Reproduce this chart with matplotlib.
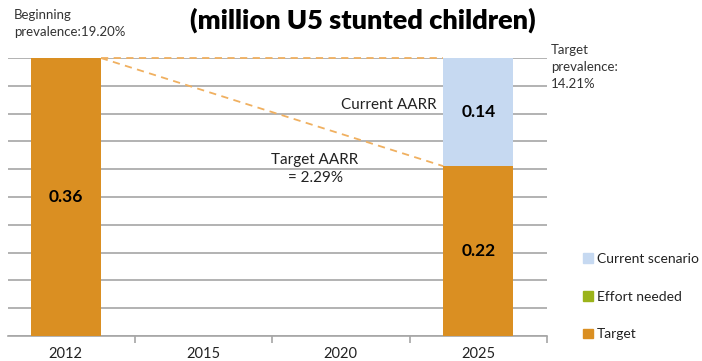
import matplotlib
matplotlib.use("Agg")
import matplotlib.pyplot as plt
from matplotlib.patches import Patch

plt.rcParams["font.family"] = ["Lato", "DejaVu Sans"]

# data
years = ["2012", "2015", "2020", "2025"]
target = [0.36, 0.0, 0.0, 0.22]
effort = [0.0, 0.0, 0.0, 0.0]
current = [0.0, 0.0, 0.0, 0.14]
start_prev = 0.36
target_level = 0.22

ORANGE = "#DA8F22"
BLUE = "#C6D9F1"
GREEN = "#9BB31A"
GRID = "#A6A6A6"

fig = plt.figure(figsize=(7.02, 3.61), dpi=100)
ax = fig.add_axes([8 / 702, 25 / 361, 539 / 702, 278 / 361])

x = range(len(years))
w = 0.51
ax.bar(x, target, w, color=ORANGE, zorder=3)
ax.bar(x, effort, w, bottom=target, color=GREEN, zorder=3)
bottom2 = [t + e for t, e in zip(target, effort)]
ax.bar(x, current, w, bottom=bottom2, color=BLUE, zorder=3)

ax.set_xlim(-0.42, 3.5)
ax.set_ylim(0, 0.36)
ax.set_yticks([i * 0.036 for i in range(11)])
ax.yaxis.grid(True, color=GRID, linewidth=1.2)
ax.tick_params(axis="y", left=False, labelleft=False)
ax.set_xticks([0, 1, 2, 3], labels=years)
ax.set_xticks([0.5, 1.5, 2.5, 3.5], minor=True)
ax.tick_params(axis="x", which="major", length=0, pad=8, labelsize=10.5, colors="#222222")
ax.tick_params(axis="x", which="minor", length=5, color=GRID, width=1.2)
for s in ["top", "right", "left"]:
    ax.spines[s].set_visible(False)
ax.spines["bottom"].set_color(GRID)
ax.spines["bottom"].set_linewidth(1.2)

# dashed target path
x0 = 0 + w / 2
x1 = 3 - w / 2
ax.plot([x0, x1], [start_prev, target_level], ls=(0, (4, 3)), color="#F0B060", lw=1.3, zorder=4)
ax.plot([x0, x1], [start_prev, start_prev], ls=(0, (4, 3)), color="#F0B060", lw=1.3,
        zorder=4, clip_on=False)

# bar labels
ax.text(0, target[0] / 2, f"{target[0]:.2f}", ha="center", va="center",
        fontsize=12.5, fontweight="bold", zorder=5)
ax.text(3, target[3] / 2, f"{target[3]:.2f}", ha="center", va="center",
        fontsize=12.5, fontweight="bold", zorder=5)
ax.text(3, target[3] + current[3] / 2, f"{current[3]:.2f}", ha="center", va="center",
        fontsize=12.5, fontweight="bold", zorder=5)

# annotations
fig.text(363 / 702, 1 - 20 / 361, "(million U5 stunted children)", ha="center", va="center",
         fontsize=19.5, fontweight="heavy")
fig.text(14 / 702, 1 - 9 / 361, "Beginning\nprevalence:19.20%", ha="left", va="top",
         fontsize=9.5, color="#333333", linespacing=1.45)
fig.text(551 / 702, 1 - 44 / 361, "Target\nprevalence:\n14.21%", ha="left", va="top",
         fontsize=9.5, color="#333333", linespacing=1.5)
fig.text(437 / 702, 1 - 105 / 361, "Current AARR", ha="right", va="center",
         fontsize=11, color="#222222")
fig.text(315 / 702, 1 - 169 / 361, "Target AARR\n= 2.29%", ha="center", va="center",
         fontsize=11, color="#222222", linespacing=1.35)

handles = [Patch(color=BLUE, label="Current scenario"),
           Patch(color=GREEN, label="Effort needed"),
           Patch(color=ORANGE, label="Target")]
fig.legend(handles=handles, loc="upper left", bbox_to_anchor=(576 / 702, 1 - 246 / 361),
           frameon=False, fontsize=10, handlelength=0.7, handleheight=0.7,
           handletextpad=0.3, labelspacing=1.85, borderpad=0, labelcolor="#222222")

fig.savefig("out.png", dpi=100)
